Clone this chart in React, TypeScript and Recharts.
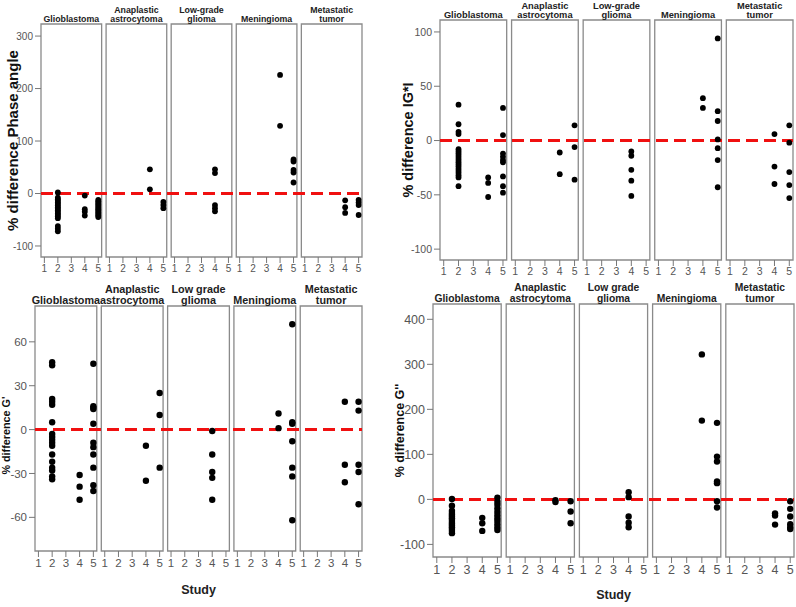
import React from "react";
import {
  ScatterChart,
  Scatter,
  XAxis,
  YAxis,
  ReferenceArea,
  ReferenceLine,
  Label,
} from "recharts";

type Facet = Record<number, number[]>;

const STUDIES = [1, 2, 3, 4, 5];
const TUMORS_TOP = ["Glioblastoma", "Anaplastic|astrocytoma", "Low-grade|glioma", "Meningioma", "Metastatic|tumor"];
const TUMORS_BOTTOM = ["Glioblastoma", "Anaplastic|astrocytoma", "Low grade|glioma", "Meningioma", "Metastatic|tumor"];

// % difference Phase angle
const phaseGlio: Facet = {
  2: [2, -8, -11, -14, -17, -20, -23, -26, -29, -32, -35, -38, -41, -44, -47, -62, -67, -72],
  4: [-4, -30, -35, -42],
  5: [-12, -15, -18, -21, -24, -27, -30, -33, -36, -39, -42, -45],
};
const phaseAnap: Facet = { 4: [46, 8], 5: [-16, -22, -28] };
const phaseLow: Facet = { 4: [46, 39, -22, -28, -34] };
const phaseMen: Facet = { 4: [226, 129], 5: [65, 61, 45, 40, 21] };
const phaseMet: Facet = { 4: [-13, -26, -37], 5: [-12, -17, -22, -41] };

// % difference |G*|
const gstarGlio: Facet = {
  2: [33, 15, 8, 6, -8, -10, -12, -14, -16, -18, -20, -22, -24, -26, -28, -30, -32, -34, -42],
  4: [-34, -39, -52],
  5: [30, 5, -12, -15, -18, -20, -33, -42, -48],
};
const gstarAnap: Facet = { 4: [-11, -31], 5: [14, -6, -36] };
const gstarLow: Facet = { 4: [-10, -14, -27, -37, -51] };
const gstarMen: Facet = { 4: [39, 30], 5: [94, 27, 18, 1, -7, -18, -43] };
const gstarMet: Facet = { 4: [6, -24, -40], 5: [14, -2, -29, -41, -53] };

// % difference G'
const g1Glio: Facet = {
  2: [46, 44, 21, 19, 17, 5, -3, -5, -7, -9, -11, -17, -22, -26, -28, -32, -34],
  4: [-31, -39, -48],
  5: [45, 16, 15, 14, 4, -9, -12, -17, -26, -38, -42],
};
const g1Anap: Facet = { 4: [-11, -35], 5: [25, 10, -26] };
const g1Low: Facet = { 4: [-1, -17, -29, -33, -48] };
const g1Men: Facet = { 4: [11, 1], 5: [72, 5, 4, -8, -26, -32, -62] };
const g1Met: Facet = { 4: [19, -24, -36], 5: [19, 13, -24, -29, -51] };

// % difference G''
const g2Glio: Facet = {
  2: [1, -14, -25, -30, -34, -38, -42, -46, -50, -54, -58, -62, -66, -70, -75],
  4: [-41, -53, -70],
  5: [4, -5, -12, -20, -28, -35, -42, -48, -55, -62, -68],
};
const g2Anap: Facet = { 4: [-2, -6], 5: [-4, -27, -53] };
const g2Low: Facet = { 4: [16, 5, -38, -52, -62] };
const g2Men: Facet = { 4: [322, 175], 5: [170, 95, 84, 40, 36, -4, -18] };
const g2Met: Facet = { 4: [-31, -36, -56], 5: [-4, -21, -38, -55, -62, -66] };

const X0 = 0.75;
const X1 = 5.25;
const STRIDE = X1 - X0 + 0.33;

const FONT = "'Liberation Sans Narrow', 'Arial Narrow', 'Liberation Sans', Arial, sans-serif";
const FONT_WIDE = "'Liberation Sans', Arial, sans-serif";

type PanelCfg = {
  left: number;
  top: number;
  width: number;
  height: number;
  margin: { top: number; right: number; bottom: number; left: number };
  yWidth: number;
  xHeight: number;
  yDomain: [number, number];
  yTicks: number[];
  yLabel: string;
  yLabelSize: number;
  yLabelX: number;
  yLabelDy: number;
  titles: string[];
  titleSize: number;
  titleLh: number;
  tickSize: number;
  r: number;
  facets: Facet[];
  xLabelY?: number;
};

const panels: PanelCfg[] = [
  {
    left: 0, top: 0, width: 396, height: 278,
    margin: { top: 24, right: 34, bottom: 1, left: 0 },
    yWidth: 41, xHeight: 20,
    yDomain: [-121, 323], yTicks: [-100, 0, 100, 200, 300],
    yLabel: "% difference Phase angle", yLabelSize: 15, yLabelX: 12, yLabelDy: 0,
    titles: TUMORS_TOP, titleSize: 8.8, titleLh: 9, tickSize: 10, r: 2.9,
    facets: [phaseGlio, phaseAnap, phaseLow, phaseMen, phaseMet],
  },
  {
    left: 396, top: 0, width: 400, height: 278,
    margin: { top: 20, right: 3, bottom: 0, left: 0 },
    yWidth: 44, xHeight: 18,
    yDomain: [-110, 111], yTicks: [-100, -50, 0, 50, 100],
    yLabel: "% difference IG*I", yLabelSize: 14.5, yLabelX: 12, yLabelDy: 0,
    titles: TUMORS_TOP, titleSize: 9.3, titleLh: 9, tickSize: 10.5, r: 2.9,
    facets: [gstarGlio, gstarAnap, gstarLow, gstarMen, gstarMet],
  },
  {
    left: 0, top: 278, width: 390, height: 329,
    margin: { top: 28, right: 28, bottom: 31, left: 0 },
    yWidth: 35, xHeight: 25,
    yDomain: [-83, 84.5], yTicks: [-60, -30, 0, 30, 60],
    yLabel: "% difference G'", yLabelSize: 10.8, yLabelX: 6, yLabelDy: 7,
    titles: TUMORS_BOTTOM, titleSize: 10.8, titleLh: 11, tickSize: 11.5, r: 3.2,
    facets: [g1Glio, g1Anap, g1Low, g1Men, g1Met],
    xLabelY: 43,
  },
  {
    left: 390, top: 278, width: 406, height: 329,
    margin: { top: 26, right: 2, bottom: 25, left: 0 },
    yWidth: 43, xHeight: 25,
    yDomain: [-128, 434], yTicks: [-100, 0, 100, 200, 300, 400],
    yLabel: "% difference G''", yLabelSize: 12.5, yLabelX: 10, yLabelDy: 0,
    titles: TUMORS_BOTTOM, titleSize: 10.3, titleLh: 11, tickSize: 12.5, r: 3.2,
    facets: [g2Glio, g2Anap, g2Low, g2Men, g2Met],
    xLabelY: 42,
  },
];

function FacetPanel({ p }: { p: PanelCfg }) {
  const data = p.facets.flatMap((facet, f) =>
    Object.entries(facet).flatMap(([s, vals]) =>
      vals.map((v) => ({ x: f * STRIDE + Number(s), y: v }))
    )
  );
  const xTicks = p.facets.flatMap((_, f) => STUDIES.map((s) => f * STRIDE + s));
  const studyOf = (v: number) => {
    const f = Math.floor((v - 0.5) / STRIDE);
    return String(Math.round(v - f * STRIDE));
  };

  return (
    <div style={{ position: "absolute", left: p.left, top: p.top }}>
      <ScatterChart width={p.width} height={p.height} margin={p.margin}>
        <XAxis
          type="number"
          dataKey="x"
          domain={[X0, 4 * STRIDE + X1]}
          allowDataOverflow
          ticks={xTicks}
          interval={0}
          tickFormatter={studyOf}
          axisLine={false}
          tickLine={{ stroke: "#777" }}
          tickSize={6}
          height={p.xHeight}
          tick={{ fill: "#555", fontSize: p.tickSize, fontFamily: FONT }}
        >
          {p.xLabelY !== undefined && (
            <Label
              content={({ viewBox }: any) => (
                <text
                  x={viewBox.x + viewBox.width / 2}
                  y={viewBox.y + p.xLabelY!}
                  textAnchor="middle"
                  fontSize={12.5}
                  fontWeight="bold"
                  fontFamily={FONT_WIDE}
                  fill="#222"
                >
                  Study
                </text>
              )}
            />
          )}
        </XAxis>
        <YAxis
          type="number"
          dataKey="y"
          domain={p.yDomain}
          allowDataOverflow
          ticks={p.yTicks}
          interval={0}
          width={p.yWidth}
          axisLine={false}
          tickLine={{ stroke: "#777" }}
          tickSize={6}
          tick={{ fill: "#555", fontSize: p.tickSize, fontFamily: FONT }}
        >
          <Label
            content={({ viewBox }: any) => (
              <text
                transform={`translate(${p.yLabelX},${viewBox.y + viewBox.height / 2 + p.yLabelDy}) rotate(-90)`}
                textAnchor="middle"
                dominantBaseline="central"
                fontSize={p.yLabelSize}
                fontWeight="bold"
                fontFamily={FONT_WIDE}
                fill="#111"
              >
                {p.yLabel}
              </text>
            )}
          />
        </YAxis>
        {p.titles.map((t, f) => (
          <ReferenceArea
            key={t + f}
            x1={f * STRIDE + X0}
            x2={f * STRIDE + X1}
            y1={p.yDomain[0]}
            y2={p.yDomain[1]}
            ifOverflow="visible"
            fill="none"
            fillOpacity={0}
            stroke="#8a8a8a"
            strokeWidth={1.3}
            label={({ viewBox }: any) => {
              const lines = t.split("|");
              const cx = viewBox.x + viewBox.width / 2;
              return (
                <text textAnchor="middle" fontSize={p.titleSize} fontWeight="bold" fontFamily={FONT} fill="#222">
                  {lines.map((ln, i) => (
                    <tspan key={i} x={cx} y={viewBox.y - 2 - (lines.length - 1 - i) * p.titleLh}>
                      {ln}
                    </tspan>
                  ))}
                </text>
              );
            }}
          />
        ))}
        <ReferenceLine y={0} stroke="#f01010" strokeWidth={3} strokeDasharray="12 6" />
        <Scatter
          data={data}
          isAnimationActive={false}
          shape={(s: any) => <circle cx={s.cx} cy={s.cy} r={p.r} fill="#000" />}
        />
      </ScatterChart>
    </div>
  );
}

export default function App() {
  return (
    <div style={{ position: "absolute", left: 0, top: 0, width: 796, height: 607, background: "#fff" }}>
      {panels.map((p, i) => (
        <FacetPanel key={i} p={p} />
      ))}
    </div>
  );
}
